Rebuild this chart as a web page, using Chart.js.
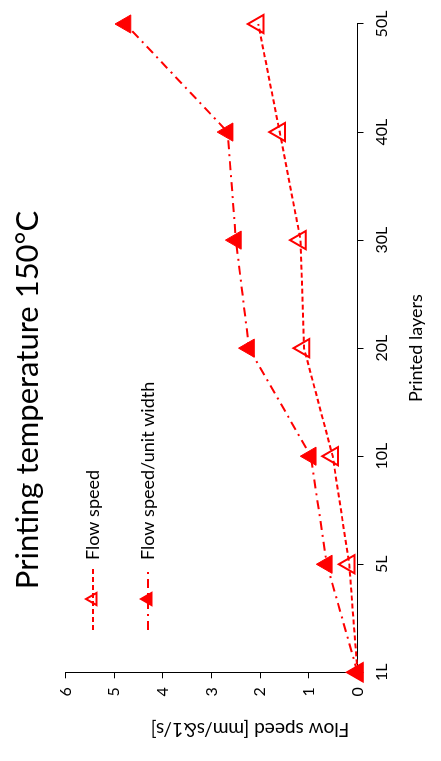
<!DOCTYPE html>
<html>
<head>
<meta charset="utf-8">
<script src="https://cdn.jsdelivr.net/npm/chart.js@4"></script>
<style>
  html, body { margin: 0; padding: 0; background: #fff; overflow: hidden; }
  #wrap {
    position: absolute; left: 0; top: 0;
    width: 761px; height: 441px;
    transform-origin: 0 0;
    transform: translate(0, 761px) rotate(-90deg);
  }
</style>
</head>
<body>
<div id="wrap"><canvas id="chart" width="761" height="441"></canvas></div>
<script>
// data
const layers = ['1L', '5L', '10L', '20L', '30L', '40L', '50L'];
const flowSpeed = [0, 0.17, 0.51, 1.10, 1.17, 1.60, 2.04];
const flowSpeedUnitWidth = [0, 0.63, 0.96, 2.23, 2.50, 2.67, 4.77];
const valueTicks = [0, 1, 2, 3, 4, 5, 6];

const titleText = 'Printing temperature 150°C';
const yTitleText = 'Flow speed [mm/s&1/s]';
const fontName = 'Lato, "Open Sans", sans-serif';
const red = '#ff0000';

// legend inside the plot + chart title + value axis title
const extras = {
  id: 'extras',
  afterDraw(chart) {
    const ctx = chart.ctx;
    const rows = [93, 148];
    chart.data.datasets.forEach(function (ds, i) {
      const y = rows[i];
      ctx.save();
      ctx.strokeStyle = ds.borderColor;
      ctx.lineWidth = 2;
      ctx.setLineDash(ds.borderDash);
      ctx.beginPath();
      ctx.moveTo(131, y);
      ctx.lineTo(193, y);
      ctx.stroke();
      ctx.setLineDash([]);
      // triangle marker
      const r = 7, cx = 162;
      ctx.beginPath();
      ctx.moveTo(cx, y - r);
      ctx.lineTo(cx + r * 0.866, y + r * 0.5);
      ctx.lineTo(cx - r * 0.866, y + r * 0.5);
      ctx.closePath();
      ctx.fillStyle = ds.pointBackgroundColor;
      ctx.fill();
      ctx.stroke();
      ctx.fillStyle = '#000';
      ctx.font = '18px ' + fontName;
      ctx.textBaseline = 'middle';
      ctx.textAlign = 'left';
      ctx.fillText(ds.label, 201, y);
      ctx.restore();
    });
    // chart title
    ctx.save();
    ctx.fillStyle = '#000';
    ctx.font = '31px ' + fontName;
    ctx.textAlign = 'center';
    ctx.textBaseline = 'middle';
    ctx.fillText(titleText, 361, 28);
    ctx.restore();
    // value axis title
    ctx.save();
    ctx.translate(32, 250);
    ctx.rotate(-Math.PI / 2);
    ctx.fillStyle = '#000';
    ctx.font = '19px ' + fontName;
    ctx.textAlign = 'center';
    ctx.textBaseline = 'middle';
    ctx.fillText(yTitleText, 0, 0);
    ctx.restore();
  }
};

const ctx = document.getElementById('chart').getContext('2d');
const chart = new Chart(ctx, {
  type: 'line',
  data: {
    labels: layers,
    datasets: [
      {
        label: 'Flow speed',
        data: flowSpeed,
        borderColor: red,
        borderWidth: 2,
        borderDash: [5, 3],
        pointStyle: 'triangle',
        pointRadius: 10.5,
        pointBorderWidth: 2,
        pointBorderColor: red,
        pointBackgroundColor: 'rgba(255,255,255,0)',
        tension: 0,
        clip: false
      },
      {
        label: 'Flow speed/unit width',
        data: flowSpeedUnitWidth,
        borderColor: red,
        borderWidth: 2,
        borderDash: [9, 5, 2, 5],
        pointStyle: 'triangle',
        pointRadius: 10.5,
        pointBorderWidth: 1,
        pointBorderColor: red,
        pointBackgroundColor: red,
        tension: 0,
        clip: false
      }
    ]
  },
  options: {
    responsive: false,
    animation: false,
    layout: { padding: { top: 65.7, right: 24, bottom: 0, left: 0 } },
    plugins: {
      legend: { display: false },
      title: { display: false },
      tooltip: { enabled: false }
    },
    scales: {
      x: {
        offset: false,
        afterFit: function (scale) { scale.height = 83.5; },
        grid: { offset: false, drawOnChartArea: false, drawTicks: true, tickLength: 6, color: '#000' },
        border: { display: true, color: '#000', width: 1 },
        ticks: { color: '#000', padding: 9, maxRotation: 0, font: { family: fontName, size: 16 } },
        title: {
          display: true, text: 'Printed layers', color: '#000',
          padding: { top: 0, bottom: 14 },
          font: { family: fontName, size: 18 }
        }
      },
      y: {
        min: 0,
        max: 6,
        afterFit: function (scale) { scale.width = 88.7; },
        afterBuildTicks: function (scale) { scale.ticks = valueTicks.map(v => ({ value: v })); },
        grid: { drawOnChartArea: false, drawTicks: true, tickLength: 6, color: '#000' },
        border: { display: true, color: '#000', width: 1 },
        ticks: { color: '#000', padding: 9, font: { family: fontName, size: 16 } }
      }
    }
  },
  plugins: [extras]
});
</script>
</body>
</html>
